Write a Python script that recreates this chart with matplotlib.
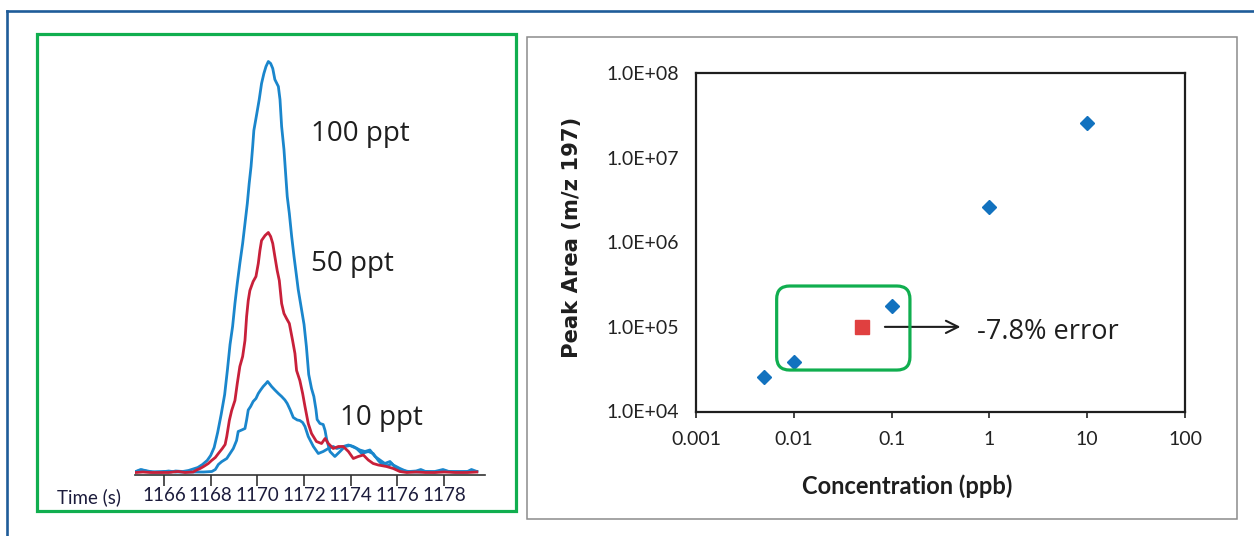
import matplotlib
matplotlib.use('Agg')
import matplotlib.pyplot as plt
from matplotlib import font_manager
from matplotlib.patches import Rectangle, FancyBboxPatch
from matplotlib.transforms import IdentityTransform

# --- Chromatogram data (time in s, signal in arbitrary units) ---
t_100 = [1164.80, 1165.05, 1165.30, 1165.60, 1166.00, 1166.30, 1166.50, 1166.80, 1167.05, 1167.25,
         1167.45, 1167.65, 1167.85, 1168.00, 1168.15, 1168.30, 1168.45, 1168.60, 1168.72, 1168.83,
         1168.94, 1169.04, 1169.14, 1169.25, 1169.37, 1169.47, 1169.57, 1169.65, 1169.73, 1169.80,
         1169.85, 1169.97, 1170.08, 1170.18, 1170.28, 1170.37, 1170.47, 1170.57, 1170.66, 1170.75,
         1170.90, 1170.97, 1171.04, 1171.14, 1171.22, 1171.28, 1171.37, 1171.47, 1171.57, 1171.68,
         1171.75, 1171.85, 1172.00, 1172.10, 1172.20, 1172.32, 1172.42, 1172.51, 1172.56, 1172.68,
         1172.82, 1172.90, 1172.97, 1173.11, 1173.32, 1173.54, 1173.75, 1173.97, 1174.25, 1174.47,
         1174.75, 1174.96, 1175.18, 1175.39, 1175.61, 1175.75, 1175.96, 1176.20, 1176.50, 1176.80,
         1177.00, 1177.20, 1177.60, 1177.95, 1178.20, 1178.60, 1179.00, 1179.17, 1179.40]
s_100 = [3, 4.5, 3, 2.5, 3, 2.5, 3.5, 3, 4, 5.5,
         7, 10, 14, 19, 27, 42, 60, 80, 105, 130,
         148, 171, 191, 211, 231, 251, 271, 291, 308, 328,
         344, 360, 375, 391, 401, 408, 413, 411, 406, 395,
         388, 375, 348, 325, 298, 278, 261, 238, 218, 198,
         185, 171, 150, 128, 100, 86, 78, 65, 55, 51,
         50, 44, 35, 23, 18, 23, 28, 29, 26, 21,
         23, 21, 14, 9, 9, 11, 6, 4, 3, 3.5,
         5, 3, 3, 5, 3, 3, 3, 5, 3]

t_50 = [1164.80, 1165.10, 1165.40, 1165.80, 1166.20, 1166.60, 1166.90, 1167.25, 1167.40, 1167.55,
        1167.70, 1167.90, 1168.04, 1168.20, 1168.33, 1168.50, 1168.62, 1168.69, 1168.80, 1168.90,
        1169.04, 1169.14, 1169.25, 1169.37, 1169.47, 1169.54, 1169.61, 1169.68, 1169.82, 1169.94,
        1170.04, 1170.11, 1170.18, 1170.33, 1170.47, 1170.57, 1170.66, 1170.75, 1170.85, 1170.94,
        1171.04, 1171.14, 1171.25, 1171.37, 1171.51, 1171.61, 1171.68, 1171.82, 1171.94, 1172.04,
        1172.18, 1172.32, 1172.53, 1172.75, 1172.90, 1173.04, 1173.25, 1173.47, 1173.68, 1173.90,
        1174.11, 1174.32, 1174.54, 1174.75, 1174.96, 1175.18, 1175.53, 1175.82, 1176.10, 1176.40,
        1176.80, 1177.20, 1177.60, 1178.00, 1178.50, 1179.00, 1179.40]
s_50 = [2, 2.5, 2, 2, 2, 3, 2, 2.5, 4.5, 6,
        8, 11, 14, 17, 21, 26, 30, 38, 54, 64,
        74, 91, 108, 118, 134, 158, 174, 184, 193, 198,
        211, 224, 234, 239, 242, 238, 231, 218, 204, 194,
        171, 161, 156, 151, 134, 121, 104, 94, 81, 68,
        51, 41, 33, 31, 36, 31, 26, 28, 28, 23,
        16, 18, 19.5, 14.5, 11, 9.5, 8, 6, 3, 2,
        2.5, 2, 2, 2.5, 2, 2, 2.5]

t_10 = [1164.80, 1165.00, 1165.20, 1165.50, 1165.90, 1166.20, 1166.50, 1166.90, 1167.30, 1167.70,
        1168.05, 1168.20, 1168.33, 1168.47, 1168.69, 1168.83, 1168.97, 1169.11, 1169.18, 1169.33,
        1169.47, 1169.54, 1169.61, 1169.71, 1169.82, 1169.94, 1170.04, 1170.14, 1170.25, 1170.37,
        1170.44, 1170.51, 1170.61, 1170.75, 1170.90, 1171.04, 1171.18, 1171.28, 1171.40, 1171.54,
        1171.71, 1171.82, 1171.94, 1172.04, 1172.18, 1172.40, 1172.61, 1172.82, 1173.04, 1173.25,
        1173.40, 1173.68, 1173.90, 1174.11, 1174.39, 1174.61, 1174.82, 1175.04, 1175.25, 1175.46,
        1175.68, 1175.82, 1176.11, 1176.40, 1176.80, 1177.20, 1177.60, 1178.00, 1178.40, 1178.80,
        1179.20, 1179.40]
s_10 = [3, 5, 4, 2.5, 2.5, 3.5, 2.5, 2.5, 2.5, 2.5,
        3, 5, 10, 12.8, 16, 21, 26, 34, 43, 44.5,
        46, 54.5, 64.5, 68, 73, 76, 81, 84.5, 88, 91,
        93, 91, 88, 84.5, 81, 78, 74.5, 71, 65, 57,
        54.5, 54, 52, 48, 38, 28, 21, 23, 26, 28,
        26, 28, 29.5, 28, 24.5, 23, 24.5, 18, 14.5, 11,
        13, 9.5, 6, 3, 2.5, 3, 2.5, 3.5, 2.5, 2.5,
        3, 3]

time_ticks = [1166, 1168, 1170, 1172, 1174, 1176, 1178]

# --- Calibration data ---
conc_ppb = [0.005, 0.01, 0.1, 1, 10]
peak_area = [2.55e4, 3.85e4, 1.77e5, 2.6e6, 2.6e7]
check_conc = [0.05]
check_area = [1.0e5]
x_ticks = [0.001, 0.01, 0.1, 1, 10, 100]
x_ticklabels = ['0.001', '0.01', '0.1', '1', '10', '100']
y_ticks = [1e4, 1e5, 1e6, 1e7, 1e8]
y_ticklabels = ['1.0E+04', '1.0E+05', '1.0E+06', '1.0E+07', '1.0E+08']

# narrow font for the time axis if we have it
installed = {f.name for f in font_manager.fontManager.ttflist}
narrow = 'Liberation Sans Narrow' if 'Liberation Sans Narrow' in installed else 'Lato'
narrow_size = 15 if narrow == 'Liberation Sans Narrow' else 13.5

W, H = 1254, 536
fig = plt.figure(figsize=(W / 100, H / 100), dpi=100)


def fx(x):
    return x / W


def fy(y):
    return 1 - y / H


def box(x0, y0, x1, y1):
    # left, bottom, width, height in figure fraction from pixel corners
    return [fx(x0), fy(y1), fx(x1) - fx(x0), fy(y0) - fy(y1)]


# --- frames ---
fig.add_artist(plt.Line2D([fx(7), fx(W + 5)], [fy(10.7), fy(10.7)], color='#1f5c99', lw=1.9))
fig.add_artist(plt.Line2D([fx(7), fx(7)], [fy(10.7), fy(H + 5)], color='#1f5c99', lw=1.9))
fig.add_artist(Rectangle((fx(37), fy(511)), fx(516) - fx(37), fy(34) - fy(511),
                         transform=fig.transFigure, fill=False, ec='#10ae4f', lw=2.3))
fig.add_artist(Rectangle((fx(527), fy(519)), fx(1237) - fx(527), fy(37) - fy(519),
                         transform=fig.transFigure, fill=False, ec='#8c8c8c', lw=1.1))

# --- left: chromatograms ---
ax1 = fig.add_axes(box(135, 40, 485, 474.5))
ax1.plot(t_100, s_100, color='#1a86cc', lw=2.0)
ax1.plot(t_10, s_10, color='#1a86cc', lw=2.0)
ax1.plot(t_50, s_50, color='#c8203a', lw=2.0)
ax1.set_xlim(1164.76, 1179.75)
ax1.set_ylim(0, 434.5)
for sp in ['left', 'top', 'right']:
    ax1.spines[sp].set_visible(False)
ax1.spines['bottom'].set_color('#333333')
ax1.spines['bottom'].set_linewidth(1.2)
ax1.set_yticks([])
ax1.set_xticks(time_ticks)
ax1.set_xticklabels([str(t) for t in time_ticks], family=narrow, fontsize=narrow_size, color='#1c1c3c')
ax1.tick_params(axis='x', direction='out', length=8, width=1.2, color='#333333', pad=1)
ax1.patch.set_alpha(0)

fig.text(fx(57), fy(497), 'Time (s)', family=narrow, fontsize=narrow_size, color='#1c1c3c',
         va='center', ha='left')

label_kw = dict(family='Open Sans', fontsize=20, color='#1e1e1e', va='baseline', ha='left')
ax1.text(1172.30, 334, '100 ppt', **label_kw)
ax1.text(1172.30, 203.5, '50 ppt', **label_kw)
ax1.text(1173.54, 49.5, '10 ppt', **label_kw)

# --- right: calibration plot ---
ax2 = fig.add_axes(box(696, 73, 1185, 411.5))
ax2.set_xscale('log')
ax2.set_yscale('log')
ax2.set_xlim(1e-3, 1e2)
ax2.set_ylim(1e4, 1e8)
ax2.plot(conc_ppb, peak_area, ls='none', marker='D', ms=7.5, color='#1272bf', clip_on=False, zorder=5)
ax2.plot(check_conc, check_area, ls='none', marker='s', ms=10.5, color='#e04040', zorder=5)

ax2.set_xticks(x_ticks)
ax2.set_xticklabels(x_ticklabels, family='Lato', fontsize=14, color='#222222')
ax2.set_yticks(y_ticks)
ax2.set_yticklabels(y_ticklabels, family='Lato', fontsize=14, color='#222222')
ax2.minorticks_off()
ax2.tick_params(axis='x', direction='out', length=4, width=1.2, color='#222222', pad=10)
ax2.tick_params(axis='y', length=0, pad=12)
for sp in ax2.spines.values():
    sp.set_color('#1e1e1e')
    sp.set_linewidth(1.6)

fig.text(fx(907), fy(486), 'Concentration (ppb)', family='Lato', fontweight='bold',
         fontsize=17, color='#1e1e1e', ha='center', va='center')
fig.text(fx(572), fy(237), 'Peak Area (m/z 197)', family='DejaVu Sans', fontweight='bold',
         fontsize=15.2, color='#1e1e1e', ha='center', va='center', rotation=90)

# annotation: arrow and text
ax2.annotate('', xy=(0.54, 1e5), xytext=(0.08, 1e5),
             arrowprops=dict(arrowstyle='->', color='#1e1e1e', lw=1.5, mutation_scale=22))
ax2.text(0.74, 7.1e4, '-7.8% error', family='Open Sans', fontsize=19.5, color='#1e1e1e',
         va='baseline', ha='left')

# green rounded box around the low standards, placed from data coords
p0 = ax2.transData.transform((0.00668, 3.09e4))
p1 = ax2.transData.transform((0.154, 3.04e5))
green = FancyBboxPatch((p0[0], p0[1]), p1[0] - p0[0], p1[1] - p0[1],
                       boxstyle='round,pad=0,rounding_size=13', transform=IdentityTransform(),
                       fill=False, ec='#10ae4f', lw=2.3, zorder=4)
fig.add_artist(green)

fig.savefig('out.png', dpi=100)
